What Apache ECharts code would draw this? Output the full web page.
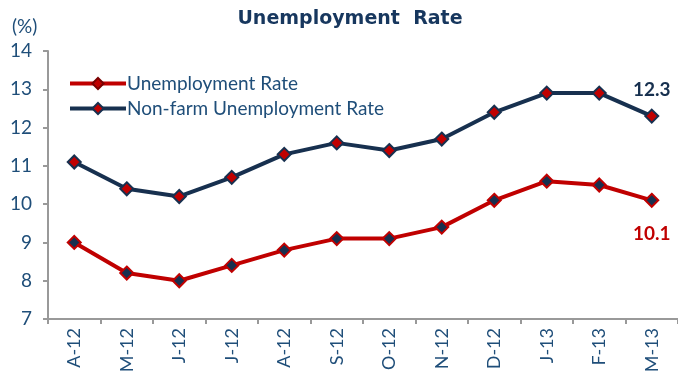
<!DOCTYPE html>
<html>
<head>
<meta charset="utf-8">
<script src="https://cdn.jsdelivr.net/npm/echarts@6/dist/echarts.min.js"></script>
<style>
  html, body { margin: 0; padding: 0; background: #fff; }
  #chart { width: 678px; height: 376px; }
</style>
</head>
<body>
<div id="chart"></div>
<script>
// month labels (Apr-12 .. Mar-13)
const months = ['A-12', 'M-12', 'J-12', 'J-12', 'A-12', 'S-12', 'O-12', 'N-12', 'D-12', 'J-13', 'F-13', 'M-13'];
const unemployment = [9.0, 8.2, 8.0, 8.4, 8.8, 9.1, 9.1, 9.4, 10.1, 10.6, 10.5, 10.1];
const nonFarm = [11.1, 10.4, 10.2, 10.7, 11.3, 11.6, 11.4, 11.7, 12.4, 12.9, 12.9, 12.3];
const yTicks = [7, 8, 9, 10, 11, 12, 13, 14];

const RED = '#C00000';
const NAVY = '#17304F';
const TEXT = '#1F4E79';
const FONT = 'Lato, sans-serif';

const chart = echarts.init(document.getElementById('chart'));

// only label the last point of a series
function lastLabel(color, position, offset) {
  return {
    show: true,
    position: position,
    offset: offset,
    fontFamily: FONT,
    fontSize: 19,
    fontWeight: 'bold',
    color: color,
    formatter: p => (p.dataIndex === months.length - 1 ? p.value.toFixed(1) : '')
  };
}

const option = {
  animation: false,
  title: {
    text: 'Unemployment  Rate',
    left: 345,
    textAlign: 'center',
    top: 5,
    textStyle: { fontFamily: 'DejaVu Sans, sans-serif', fontSize: 19, fontWeight: 'bold', color: '#17375E' }
  },
  graphic: [{
    type: 'text',
    left: 12,
    top: 17,
    style: { text: '(%)', fontFamily: FONT, fontSize: 19, fill: TEXT }
  }],
  legend: {
    orient: 'vertical',
    left: 63,
    top: 69,
    itemWidth: 56,
    itemHeight: 14,
    itemGap: 6,
    textStyle: { fontFamily: FONT, fontSize: 19, color: TEXT, padding: [0, 0, 0, -4] },
    data: [
      {
        name: 'Unemployment Rate',
        itemStyle: { color: RED, borderColor: '#7A0000', borderWidth: 2 },
        lineStyle: { color: RED, width: 4 }
      },
      { name: 'Non-farm Unemployment Rate', lineStyle: { color: NAVY, width: 4 } }
    ]
  },
  grid: { left: 48, right: 0, top: 51, bottom: 57 },
  xAxis: {
    type: 'category',
    data: months,
    boundaryGap: true,
    axisLine: { lineStyle: { color: '#999', width: 2 } },
    axisTick: { show: true, length: 5, lineStyle: { color: '#999', width: 2 } },
    axisLabel: { rotate: 90, fontFamily: FONT, fontSize: 18, color: TEXT, margin: 9 }
  },
  yAxis: {
    type: 'value',
    min: yTicks[0],
    max: yTicks[yTicks.length - 1],
    interval: 1,
    axisLine: { show: true, lineStyle: { color: '#999', width: 2 } },
    axisTick: { show: true, length: 5, lineStyle: { color: '#999', width: 2 } },
    axisLabel: { fontFamily: FONT, fontSize: 19, color: TEXT, margin: 16 },
    splitLine: { show: false }
  },
  series: [
    {
      name: 'Unemployment Rate',
      type: 'line',
      data: unemployment,
      lineStyle: { color: RED, width: 4 },
      symbol: 'diamond',
      symbolSize: 13,
      itemStyle: { color: NAVY, borderColor: RED, borderWidth: 2 },
      label: lastLabel(RED, 'bottom', [0, 12])
    },
    {
      name: 'Non-farm Unemployment Rate',
      type: 'line',
      data: nonFarm,
      lineStyle: { color: NAVY, width: 4 },
      symbol: 'diamond',
      symbolSize: 13,
      itemStyle: { color: RED, borderColor: NAVY, borderWidth: 2 },
      label: lastLabel(NAVY, 'top', [0, -4])
    }
  ]
};

chart.setOption(option);
</script>
</body>
</html>
